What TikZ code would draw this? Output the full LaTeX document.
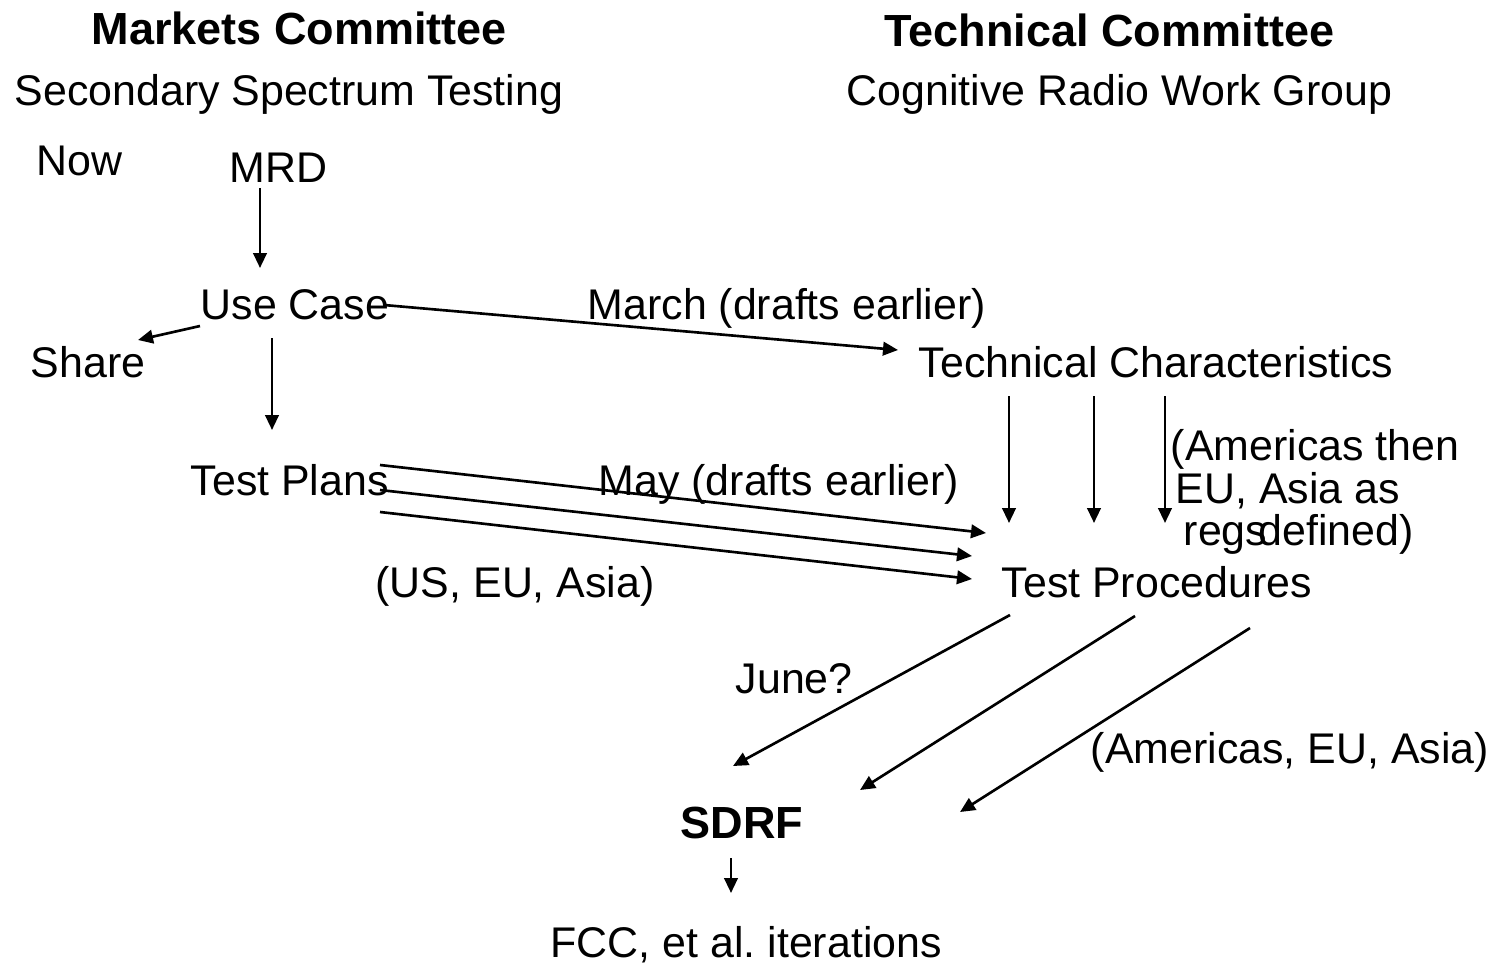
\documentclass[tikz,border=0pt]{standalone}
\usepackage{fontspec}
\setmainfont{Liberation Sans}
\usepackage{tikz}
\usetikzlibrary{positioning,arrows.meta}

\begin{document}
\begin{tikzpicture}[x=0.01cm, y=-0.01cm,
    lbl/.style={anchor=base west, inner sep=0pt, font=\fontsize{12.2pt}{14pt}\selectfont},
    ttl/.style={anchor=base west, inner sep=0pt, font=\fontsize{12.8pt}{15pt}\selectfont\bfseries},
    arr/.style={line width=0.75pt, -{Triangle[length=1.5mm, width=1.35mm]}}]

    \useasboundingbox (0,0) rectangle (1497,963);

    % column headings
    \node[ttl] (mkt) at (91,44) {Markets Committee};
    \node[ttl] (tech) at (884,46) {Technical Committee};
    \node[lbl] (sst) at (14,105) {Secondary Spectrum Testing};
    \node[lbl] (crwg) at (846,105) {Cognitive Radio Work Group};

    % markets side
    \node[lbl] (now) at (36,175) {Now};
    \node[lbl] (mrd) at (229,182) {MRD};
    \node[lbl] (usecase) at (200,319) {Use Case};
    \node[lbl] (share) at (30,377) {Share};
    \node[lbl] (testplans) at (190,495) {Test Plans};
    \node[lbl] (region) at (375,597) {(US, EU, Asia)};

    % technical side
    \node[lbl] (march) at (587,319) {March (drafts earlier)};
    \node[lbl] (techchar) at (918,377) {Technical Characteristics};
    \node[lbl] (may) at (598,495) {May (drafts earlier)};
    \node[lbl] (amA) at (1170,460) {(Americas then};
    \node[lbl] (amB) at (1175,503) {EU, Asia as};
    \node[lbl] (amC) at (1183,545) {regs\kern-2.5pt defined)};
    \node[lbl] (testproc) at (1001,597) {Test Procedures};
    \node[lbl] (june) at (735,693) {June?};
    \node[lbl] (amD) at (1090,763) {(Americas, EU, Asia)};

    % bottom
    \node[ttl] (sdrf) at (680,838) {SDRF};
    \node[lbl] (fcc) at (550,957) {FCC, et al.\ iterations};

    % arrow ends
    \coordinate (mrdOut) at (260,188);
    \coordinate (ucIn) at (260,268);
    \coordinate (ucShare) at (200,326);
    \coordinate (shareIn) at (138,340);
    \coordinate (ucDown) at (272,338);
    \coordinate (tpIn) at (272,430);
    \coordinate (ucRight) at (384,305);
    \coordinate (tcIn) at (898,350);
    \coordinate (tpOutA) at (380,465);
    \coordinate (tpOutB) at (380,490);
    \coordinate (tpOutC) at (380,512);
    \coordinate (tpcInA) at (986,533);
    \coordinate (tpcInB) at (972,556);
    \coordinate (tpcInC) at (972,579);
    \coordinate (tcOutA) at (1009,396);
    \coordinate (tcOutB) at (1094,396);
    \coordinate (tcOutC) at (1165,396);
    \coordinate (tcEndA) at (1009,523);
    \coordinate (tcEndB) at (1094,523);
    \coordinate (tcEndC) at (1165,523);
    \coordinate (tpcOutA) at (1010,615);
    \coordinate (tpcOutB) at (1135,616);
    \coordinate (tpcOutC) at (1250,628);
    \coordinate (sdrfInA) at (733,766);
    \coordinate (sdrfInB) at (860,790);
    \coordinate (sdrfInC) at (960,812);
    \coordinate (sdrfOut) at (731,858);
    \coordinate (fccIn) at (731,893);

    \draw[arr] (mrdOut) -- (ucIn);
    \draw[arr] (ucShare) -- (shareIn);
    \draw[arr] (ucDown) -- (tpIn);
    \draw[arr] (ucRight) -- (tcIn);
    \draw[arr] (tpOutA) -- (tpcInA);
    \draw[arr] (tpOutB) -- (tpcInB);
    \draw[arr] (tpOutC) -- (tpcInC);
    \draw[arr] (tcOutA) -- (tcEndA);
    \draw[arr] (tcOutB) -- (tcEndB);
    \draw[arr] (tcOutC) -- (tcEndC);
    \draw[arr] (tpcOutA) -- (sdrfInA);
    \draw[arr] (tpcOutB) -- (sdrfInB);
    \draw[arr] (tpcOutC) -- (sdrfInC);
    \draw[arr] (sdrfOut) -- (fccIn);

\end{tikzpicture}
\end{document}
